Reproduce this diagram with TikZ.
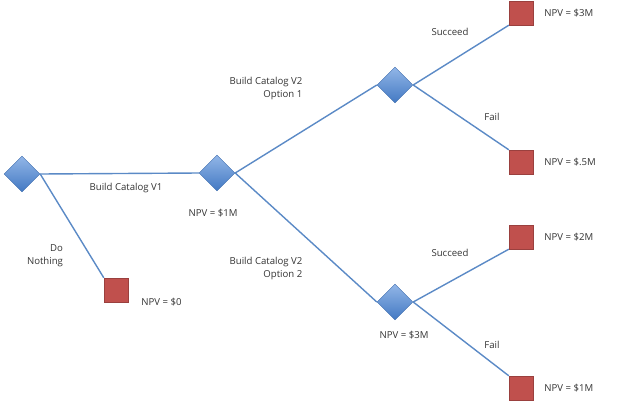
\documentclass[tikz,border=0pt]{standalone}
\usepackage{fontspec}
\setmainfont{Open Sans}
\usetikzlibrary{shapes.geometric, positioning}
\definecolor{branch}{HTML}{5B8AC6}
\definecolor{chance}{HTML}{4A86D8}
\definecolor{leaf}{HTML}{C0504D}
\tikzset{
  decision/.style={diamond, draw=chance!80!black, line width=0.4pt, top color=chance!60!white, bottom color=chance!90!black, minimum width=36pt, minimum height=36pt, inner sep=0pt},
  outcome/.style={rectangle, fill=leaf, draw=leaf!80!black, minimum size=24pt, inner sep=0pt},
  lbl/.style={font=\fontsize{9.6}{13}\selectfont, text=black!80, inner sep=1pt},
  link/.style={draw=branch, line width=1.4pt}
}
\begin{document}
\begin{tikzpicture}[x=1pt, y=-1pt]
	\useasboundingbox (0,0) rectangle (620,402);
	
	% decisions
	\node[decision] (D) at (22,174) {};
	\node[decision] (V1) at (217,173) {};
	\node[decision] (O1) at (395,85) {};
	\node[decision] (O2) at (395,302) {};
	
	% outcomes
	\node[outcome] (N0) at (116,290) {};
	\node[outcome] (S1) at (521,13) {};
	\node[outcome] (F1) at (521,162) {};
	\node[outcome] (S2) at (521,237) {};
	\node[outcome] (F2) at (521,388) {};
	
	\draw[link] (D.east) -- (V1.west);
	\draw[link] (D.east) -- (N0.north west);
	\draw[link] (V1.east) -- (O1.west);
	\draw[link] (V1.east) -- (O2.west);
	\draw[link] (O1.east) -- (S1.south west);
	\draw[link] (O1.east) -- (F1.north west);
	\draw[link] (O2.east) -- (S2.south west);
	\draw[link] (O2.east) -- (F2.north west);
	
	% labels
	\node[lbl] (l1) at (126,188) {Build Catalog V1};
	\node[lbl, align=right] (l2) at (45,256) {Do\\Nothing};
	\node[lbl, right=12pt of N0.south east] (v0) {NPV = \$0};
	\node[lbl] (v1) at (213,213) {NPV = \$1M};
	\node[lbl, align=right] (l3) at (266,89) {Build Catalog V2\\Option 1};
	\node[lbl, align=right] (l4) at (266,268) {Build Catalog V2\\Option 2};
	\node[lbl] (s1) at (450,32) {Succeed};
	\node[lbl] (f1) at (492,117) {Fail};
	\node[lbl] (s2) at (450,253) {Succeed};
	\node[lbl] (f2) at (492,345) {Fail};
	\node[lbl] (v2) at (404,335) {NPV = \$3M};
	\node[lbl, right=10pt of S1] (vs1) {NPV = \$3M};
	\node[lbl, right=10pt of F1] (vf1) {NPV = \$.5M};
	\node[lbl, right=10pt of S2] (vs2) {NPV = \$2M};
	\node[lbl, right=10pt of F2] (vf2) {NPV = \$1M};
	
\end{tikzpicture}
\end{document}
